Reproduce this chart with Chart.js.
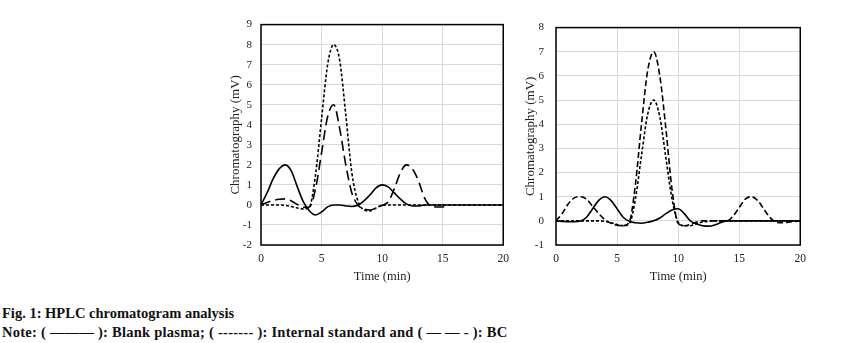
<!DOCTYPE html>
<html><head><meta charset="utf-8">
<script src="https://cdn.jsdelivr.net/npm/chart.js@4.4.0/dist/chart.umd.min.js"></script>
<style>
body{margin:0;width:863px;height:343px;background:#fff;position:relative;overflow:hidden;font-family:"Liberation Serif",serif}
#c1{position:absolute;left:211px;top:9px}
#c2{position:absolute;left:506px;top:9px}
.cap{position:absolute;left:2px;font-weight:bold;font-size:14.5px;white-space:nowrap;color:#111;line-height:16px}
</style></head><body>
<canvas id="c1" width="305" height="281"></canvas>
<canvas id="c2" width="307" height="281"></canvas>
<div class="cap" style="top:305px">Fig. 1: HPLC chromatogram analysis</div>
<div class="cap" style="top:324px;letter-spacing:0.25px">Note: ( ——— ): Blank plasma; ( ------- ): Internal standard and ( — — - ): BC</div>
<script>
const times = [0,0.5,1,1.5,2,2.5,3,3.5,4,4.5,5,5.5,6,6.5,7,7.5,8,8.5,9,9.5,10,10.5,11,11.5,12,12.5,13,13.5,14,14.5,15,15.5,16,16.5,17,17.5,18,18.5,19,19.5,20];

const leftBlank = [0,0.6,1.3,1.8,2.0,1.7,0.9,0.15,-0.3,-0.5,-0.35,-0.1,0,0,-0.05,-0.08,-0.02,0.2,0.5,0.85,1.0,0.9,0.6,0.3,0.05,-0.05,-0.05,0,0,0,0,0,0,0,0,0,0,0,0,0,0];
const leftIS = [0,0,0,0,-0.02,-0.08,-0.15,-0.2,-0.1,1.5,4.3,7.0,8.0,7.2,4.5,1.6,0.2,-0.25,-0.3,-0.15,-0.02,0,0,0,0,0,0,0,0,0,0,0,0,0,0,0,0,0,0,0,0];
const leftBC = [0,0.12,0.22,0.28,0.3,0.2,0.02,-0.12,-0.1,0.8,2.6,4.4,5.0,3.8,2.0,0.6,0.0,-0.2,-0.25,-0.15,-0.02,0.15,0.8,1.6,2.0,1.8,1.2,0.35,-0.05,-0.1,-0.1,-0.05,null,null,null,null,null,null,null,null,null];

const rightBlank = [0,-0.02,-0.04,-0.04,-0.01,0.15,0.5,0.85,1.0,0.85,0.5,0.15,-0.02,-0.08,-0.1,-0.06,0,0.12,0.3,0.45,0.5,0.3,0.0,-0.12,-0.2,-0.22,-0.17,-0.07,0,0,0,0,0,0,0,0,0,0,0,0,0];
const rightIS = [0,0,0,0,0,0,0,0,-0.02,-0.08,-0.15,-0.2,-0.12,0.9,2.7,4.4,5.0,4.3,2.6,0.9,-0.05,-0.2,-0.2,-0.12,-0.05,-0.02,0,0,0,0,0,0,0,0,0,0,0,0,0,0,0];
const rightBC = [0,0.3,0.7,0.95,1.0,0.9,0.6,0.3,0.05,-0.1,-0.18,-0.2,-0.05,1.5,4.0,6.2,7.0,6.0,3.8,1.3,-0.1,-0.2,-0.15,-0.05,0,0,0,0,0,0.2,0.55,0.9,1.0,0.85,0.5,0.15,-0.05,-0.08,-0.06,-0.03,0];

const xTickValues = [0,5,10,15,20];
const leftYRange = [-2,9];
const rightYRange = [-1,8];
const xTitle = "Time (min)";
const yTitle = "Chromatography (mV)";

Chart.defaults.font.family = '"Liberation Serif", serif';
Chart.defaults.color = '#222';

const frame = {
  id:'frame',
  afterDraw(chart){
    const {ctx, chartArea:a} = chart;
    ctx.save();
    ctx.strokeStyle = '#000';
    ctx.lineWidth = 1.5;
    ctx.strokeRect(a.left, a.top, a.right-a.left, a.bottom-a.top);
    ctx.restore();
  }
};

function pts(vals){ return times.map((t,i)=>({x:t,y:vals[i]})); }

function makeChart(id, series, yr, tickPad){
  return new Chart(document.getElementById(id), {
    type:'line',
    data:{datasets: series.map(s=>({
      label:s.label, data:pts(s.vals), borderColor:'#000', borderWidth:1.6,
      borderDash:s.dash, pointRadius:0, cubicInterpolationMode:'monotone', spanGaps:false
    }))},
    options:{
      responsive:false, animation:false, devicePixelRatio:1,
      layout:{padding:{top:10,right:10,left:0,bottom:0}},
      plugins:{legend:{display:false}, tooltip:{enabled:false}},
      scales:{
        x:{type:'linear', min:0, max:20,
          afterBuildTicks:s=>{s.ticks = xTickValues.map(v=>({value:v}));},
          afterFit:s=>{s.height=45;},
          grid:{color:'#d9d9d9', drawTicks:false},
          border:{display:false},
          ticks:{padding:7, font:{size:11.5}, color:'#222', maxRotation:0},
          title:{display:true, text:xTitle, font:{size:12.5}, color:'#222', padding:{top:0,bottom:6}}
        },
        y:{type:'linear', min:yr[0], max:yr[1],
          afterFit:s=>{s.width=50;},
          grid:{color:'#d9d9d9', drawTicks:false},
          border:{display:false},
          ticks:{stepSize:1, padding:tickPad, font:{size:11}, color:'#222'},
          title:{display:true, text:yTitle, font:{size:13}, color:'#222', padding:{top:17,bottom:0}}
        }
      }
    },
    plugins:[frame]
  });
}

makeChart('c1', [
  {label:'Blank plasma', vals:leftBlank, dash:[]},
  {label:'Internal standard', vals:leftIS, dash:[3,2]},
  {label:'BC', vals:leftBC, dash:[10,5]}
], leftYRange, 9);

makeChart('c2', [
  {label:'Blank plasma', vals:rightBlank, dash:[]},
  {label:'Internal standard', vals:rightIS, dash:[3,2]},
  {label:'BC', vals:rightBC, dash:[6,3]}
], rightYRange, 12);
</script>
</body></html>
